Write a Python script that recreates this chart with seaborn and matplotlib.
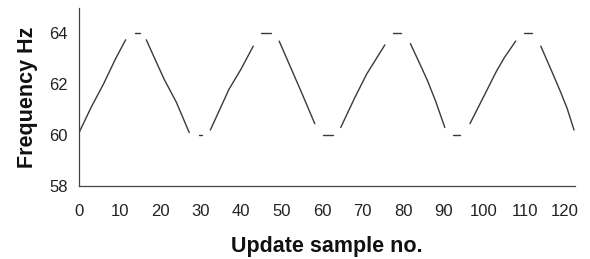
import matplotlib
matplotlib.use("Agg")
import matplotlib.pyplot as plt
import seaborn as sns
import pandas as pd

# Data: segments of the frequency trace (separate pieces with gaps)
seg_ids = [1]*5 + [2]*2 + [3]*5 + [4]*2 + [5]*5 + [6]*2 + [7]*4 + [8]*2 + [9]*4 + [10]*2 + [11]*5 + [12]*2 + [13]*5 + [14]*2 + [15]*5
sample_no = [0, 3, 6, 9, 11.5,
             13.7, 15,
             16.6, 19, 21, 24, 27.2,
             29.6, 30.4,
             32.4, 35, 37, 40, 43,
             44.9, 47.5,
             49.4, 52, 55, 58.2,
             60.2, 62.7,
             64.6, 68, 71, 75.5,
             77.4, 79.4,
             81.8, 84, 86, 88, 90.3,
             92.2, 94.1,
             96.5, 100, 103, 105, 107.8,
             109.8, 111.8,
             114, 117, 119, 120.5, 122.2]
freq_hz = [60.1, 61.1, 62.0, 63.0, 63.75,
           64, 64,
           63.75, 62.9, 62.2, 61.3, 60.1,
           60, 60,
           60.2, 61.1, 61.8, 62.6, 63.5,
           64, 64,
           63.7, 62.75, 61.65, 60.45,
           60, 60,
           60.3, 61.45, 62.4, 63.55,
           64, 64,
           63.6, 62.85, 62.15, 61.35, 60.3,
           60, 60,
           60.45, 61.55, 62.5, 63.05, 63.7,
           64, 64,
           63.5, 62.4, 61.65, 61.05, 60.2]
x_ticks = list(range(0, 121, 10))
y_ticks = [58, 60, 62, 64]

df = pd.DataFrame({"seg": seg_ids, "x": sample_no, "y": freq_hz})

sns.set_theme(style="white")
plt.rcParams['font.family'] = ['Liberation Sans', 'DejaVu Sans']

fig = plt.figure(figsize=(5.9, 2.59), dpi=100)
ax = fig.add_axes([0.134, 0.282, 0.841, 0.687])

sns.lineplot(data=df, x="x", y="y", units="seg", estimator=None, sort=False,
             color="#3a3a3a", linewidth=1.0, ax=ax)

ax.set_xlim(0, 122.5)
ax.set_ylim(58, 65)
ax.set_xticks(x_ticks)
ax.set_yticks(y_ticks)
for s in ["top", "right"]:
    ax.spines[s].set_visible(False)
for s in ["left", "bottom"]:
    ax.spines[s].set_color("#444444")
    ax.spines[s].set_linewidth(0.9)
ax.tick_params(axis="both", which="both", direction="out", length=4, width=0.9,
               color="#444444", labelsize=12, labelcolor="#222222")
ax.tick_params(axis="x", pad=9)
ax.tick_params(axis="y", pad=4)
ax.set_xlabel("Update sample no.", fontsize=15.5, fontweight="bold", color="#111111", labelpad=12)
ax.set_ylabel("Frequency Hz", fontsize=15.5, fontweight="bold", color="#111111", labelpad=8)

fig.savefig("out.png", dpi=100)
